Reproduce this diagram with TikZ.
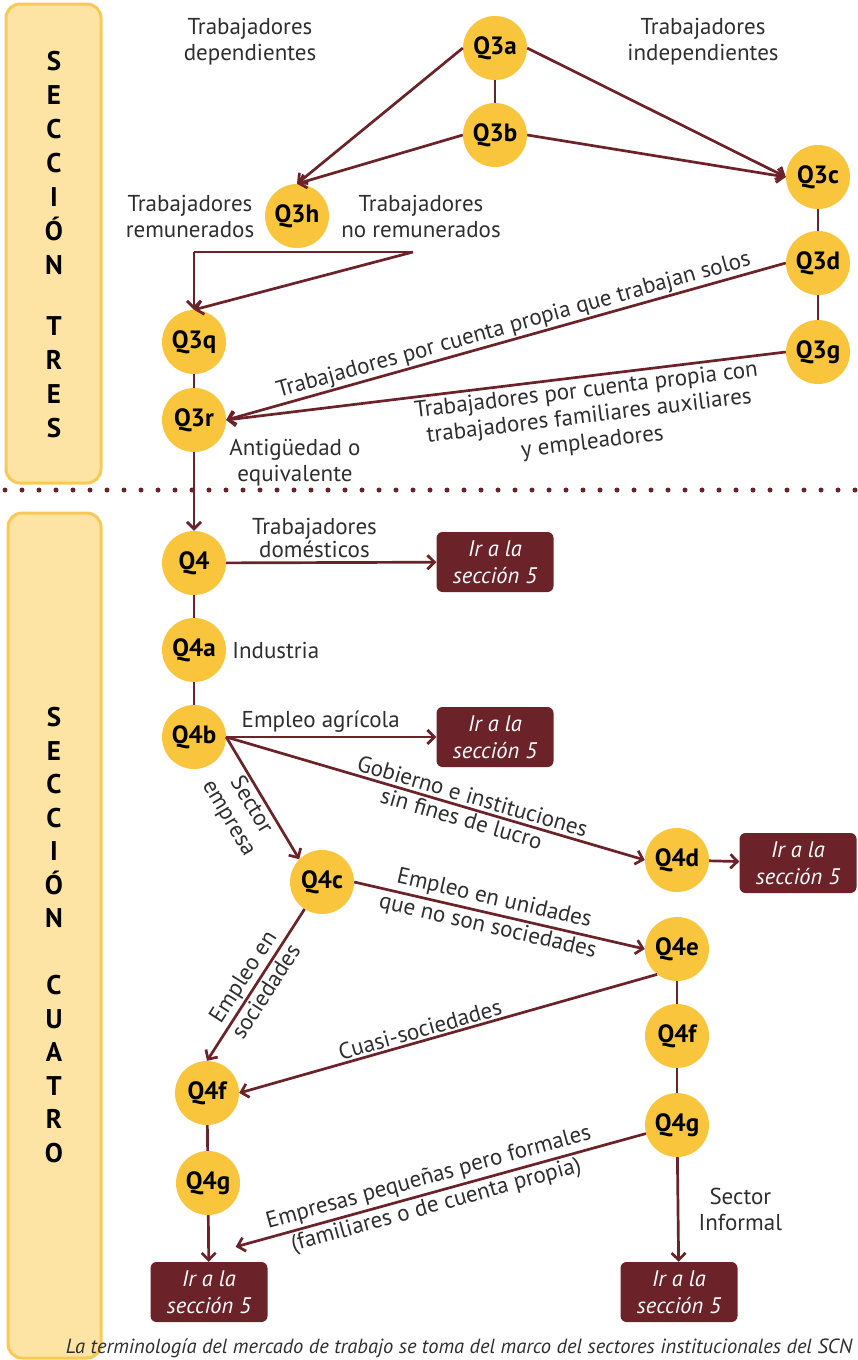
\documentclass[tikz,border=0pt]{standalone}
\usepackage{fontspec}
\setmainfont{PT Sans}
\usetikzlibrary{arrows.meta}

\definecolor{granate}{HTML}{6B2229}
\definecolor{oro}{HTML}{F8C53C}
\definecolor{crema}{HTML}{FDE4A4}
\definecolor{borde}{HTML}{F7C957}
\definecolor{texto}{HTML}{2E2E2E}

\tikzset{
  preg/.style={circle, fill=oro, minimum size=64pt, inner sep=0pt,
    font=\fontsize{25}{25}\selectfont\bfseries},
  salto/.style={rounded corners=6pt, fill=granate, minimum width=117pt,
    minimum height=60pt, align=center, text=white,
    font=\fontsize{22.5}{27}\selectfont\itshape},
  etiq/.style={align=center, text=texto, font=\fontsize{23}{26}\selectfont},
  flecha/.style={->, draw=granate, line width=2.7pt},
  linea/.style={draw=granate, line width=2.7pt},
  banda/.style={fill=crema, draw=borde, line width=3pt, rounded corners=14pt},
  seccion/.style={align=center, font=\fontsize{27}{34}\selectfont\bfseries},
  pie/.style={text=texto, font=\fontsize{20.5}{22}\selectfont\itshape}
}

\begin{document}
\begin{tikzpicture}[x=1pt, y=-1pt, >={Straight Barb[length=7pt,width=14pt]}]
	\useasboundingbox (0,0) rectangle (857,1360);
	% bandas de seccion
	\draw[banda] (6,4) rectangle (101,483);
	\draw[banda] (8,513) rectangle (101,1358);
	\node[seccion] (tres) at (54,245) {S\\E\\C\\C\\I\\Ó\\N\\[27pt]T\\R\\E\\S};
	\node[seccion, font=\fontsize{27}{33.5}\selectfont\bfseries] (cuatro) at (54,935) {S\\E\\C\\C\\I\\Ó\\N\\[33.5pt]C\\U\\A\\T\\R\\O};
	\draw[granate, line width=5pt, line cap=round, dash pattern=on 0pt off 17pt] (5,490) -- (857,490);

	% seccion tres
	\node[preg] (q3a) at (495,48) {Q3a};
	\node[preg] (q3b) at (495,135) {Q3b};
	\node[preg] (q3c) at (818,177) {Q3c};
	\node[preg] (q3d) at (818,263) {Q3d};
	\node[preg] (q3g) at (818,352) {Q3g};
	\node[preg] (q3h) at (297,216) {Q3h};
	\node[preg] (q3q) at (194,342) {Q3q};
	\node[preg] (q3r) at (194,420) {Q3r};
	\node[etiq] (dep) at (250,42) {Trabajadores\\dependientes};
	\node[etiq] (indep) at (703,42) {Trabajadores\\independientes};
	\node[etiq] (rem) at (190,216) {Trabajadores\\remunerados};
	\node[etiq] (norem) at (421,216) {Trabajadores\\no remunerados};
	\node[etiq] (ant) at (295,463) {Antigüedad o\\equivalente};
	\coordinate (hizq) at (194,252);
	\coordinate (hder) at (413,252);
	\draw[linea] (q3a) -- (q3b);
	\draw[flecha] (q3a.west) -- (q3h.north);
	\draw[flecha] (q3b.west) -- (q3h.north);
	\draw[flecha] (q3a.east) -- (q3c.west);
	\draw[flecha] (q3b.east) -- (q3c.west);
	\draw[linea] (q3c) -- (q3d);
	\draw[linea] (q3d) -- (q3g);
	\draw[linea] (hder) -- (hizq);
	\draw[flecha] (hizq) -- (q3q.north);
	\draw[flecha] (hder) -- (q3q.north);
	\draw[linea] (q3q) -- (q3r);
	\draw[flecha] (q3d.west) -- node[etiq, above, sloped, pos=0.48, inner sep=1pt] {Trabajadores por cuenta propia que trabajan solos} (q3r.east);
	\draw[flecha] (q3g.west) -- node[etiq, below, sloped, pos=0.36, inner sep=3pt] {Trabajadores por cuenta propia con\\trabajadores familiares auxiliares\\y empleadores} (q3r.east);

	% seccion cuatro
	\node[preg] (q4) at (194,563) {Q4};
	\node[preg] (q4a) at (194,650) {Q4a};
	\node[preg] (q4b) at (194,737) {Q4b};
	\node[preg] (q4c) at (322,882) {Q4c};
	\node[preg] (q4d) at (677,860) {Q4d};
	\node[preg] (q4e) at (677,949) {Q4e};
	\node[preg] (q4fd) at (677,1036) {Q4f};
	\node[preg] (q4gd) at (677,1125) {Q4g};
	\node[preg] (q4fi) at (207,1093) {Q4f};
	\node[preg] (q4gi) at (208,1183) {Q4g};
	\node[salto] (ir1) at (495,562) {Ir a la\\sección 5};
	\node[salto] (ir2) at (495,737) {Ir a la\\sección 5};
	\node[salto] (ir3) at (798,863) {Ir a la\\sección 5};
	\node[salto] (ir4) at (209,1292) {Ir a la\\sección 5};
	\node[salto] (ir5) at (679,1292) {Ir a la\\sección 5};
	\node[etiq, right, inner sep=6pt] (ind) at (q4a.east) {Industria};
	\coordinate (lleg) at ([xshift=-32pt,yshift=15pt]ir4.north east);
	\draw[flecha] (q3r) -- (q4);
	\draw[flecha] (q4) -- node[etiq, above, pos=0.42, font=\fontsize{23}{23}\selectfont] {Trabajadores\\domésticos} (ir1);
	\draw[linea] (q4) -- (q4a);
	\draw[linea] (q4a) -- (q4b);
	\draw[flecha] (q4b) -- node[etiq, above, pos=0.45] {Empleo agrícola} (ir2);
	\draw[flecha] (q4b.east) -- node[etiq, above, sloped, pos=0.58, inner sep=3pt] {Gobierno e instituciones}
		node[etiq, below, sloped, pos=0.57, inner sep=2pt] {sin fines de lucro} (q4d.west);
	\draw[flecha] (q4b.east) -- node[etiq, below, sloped, inner sep=2pt] {Sector\\empresa} (q4c.north west);
	\draw[flecha] (q4c.east) -- node[etiq, above, sloped, pos=0.47, inner sep=3pt] {Empleo en unidades}
		node[etiq, below, sloped, pos=0.47, inner sep=2pt] {que no son sociedades} (q4e.west);
	\draw[flecha] (q4c) -- node[etiq, above, sloped, inner sep=2pt] {Empleo en}
		node[etiq, below, sloped, inner sep=2pt] {sociedades} (q4fi.north);
	\draw[flecha] (q4d) -- (ir3);
	\draw[linea] (q4e) -- (q4fd);
	\draw[linea] (q4fd) -- (q4gd);
	\draw[flecha] (q4e.-128) -- node[etiq, above, sloped, pos=0.56, inner sep=2pt] {Cuasi-sociedades} (q4fi.east);
	\draw[linea] (q4fi) -- (q4gi);
	\draw[flecha] (q4gi) -- (ir4);
	\draw[flecha] (q4gd) -- node[etiq, right, xshift=16pt] {Sector\\Informal} (ir5);
	\draw[flecha] (q4gd) -- node[etiq, above, sloped, pos=0.52, inner sep=3pt] {Empresas pequeñas pero formales}
		node[etiq, below, sloped, pos=0.52, inner sep=2pt] {(familiares o de cuenta propia)} (lleg);
	\node[pie] (nota) at (459,1348) {La terminología del mercado de trabajo se toma del marco del sectores institucionales del SCN};
\end{tikzpicture}
\end{document}
